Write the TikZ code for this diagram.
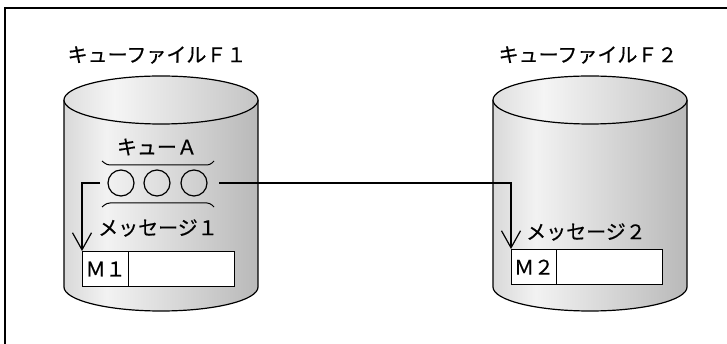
\documentclass[tikz,border=0pt]{standalone}
\usepackage{fontspec}
\setmainfont{Noto Sans CJK JP}[UprightFeatures={FakeBold=0.5}]
\usetikzlibrary{arrows.meta}
\pgfdeclarehorizontalshading{cylbody}{100bp}{color(0bp)=(black!38); color(36bp)=(black!5); color(100bp)=(black!42)}
\pgfdeclarehorizontalshading{cyltop}{100bp}{color(0bp)=(black!30); color(38bp)=(black!4); color(100bp)=(black!36)}
\begin{document}
\begin{tikzpicture}[x=1pt,y=-1pt,
  outline/.style={line width=1.2pt,draw=black},
  lbl/.style={inner sep=0pt,font=\fontsize{20pt}{24pt}\selectfont},
  cell/.style={draw=black,line width=1.2pt,fill=white,inner sep=0pt,anchor=north west},
  dot/.style={circle,draw=black,line width=1.2pt,minimum size=26pt,inner sep=0pt},
  conn/.style={line width=1.2pt,-{Straight Barb[length=17pt,width=19pt,line width=1.2pt]}},
  brk/.style={line width=1pt,rounded corners=3pt}]
\useasboundingbox (0,0) rectangle (727,344);
% frame (only top and left edges visible)
\draw[line width=1.5pt] (5,344) -- (5,8) -- (727,8);
% cylinder 1
\path[shading=cylbody] (64,100) -- (64,287) arc[start angle=180,end angle=0,x radius=97,y radius=24] -- (258,100) -- cycle;
\draw[outline] (64,100) -- (64,287) arc[start angle=180,end angle=0,x radius=97,y radius=24] -- (258,100);
\path[shading=cyltop,outline] (161,100) ellipse[x radius=97,y radius=24];
% cylinder 2
\path[shading=cylbody] (493,100) -- (493,287) arc[start angle=180,end angle=0,x radius=97,y radius=24] -- (687,100) -- cycle;
\draw[outline] (493,100) -- (493,287) arc[start angle=180,end angle=0,x radius=97,y radius=24] -- (687,100);
\path[shading=cyltop,outline] (590,100) ellipse[x radius=97,y radius=24];
% titles
\node[lbl] (t1) at (157,55) {キューファイルＦ１};
\node[lbl] (t2) at (588,55) {キューファイルＦ２};
% queue
\node[lbl] (qa) at (157,147) {キューＡ};
\draw[brk] (102,161) -- (107,165) -- (210,165) -- (214,161);
\draw[brk] (102,207) -- (107,203) -- (210,203) -- (214,207);
\node[dot] (c1) at (121,183) {};
\node[dot] (c2) at (157,183) {};
\node[dot] (c3) at (194,183) {};
\node[lbl] (msg1) at (158,228) {メッセージ１};
% boxes
\node[cell,minimum width=46pt,minimum height=35pt] (m1) at (82,251) {};
\node[cell,minimum width=106pt,minimum height=35pt] (r1) at (128,251) {};
\node[lbl] at (m1.center) {Ｍ１};
\node[cell,minimum width=45pt,minimum height=35pt] (m2) at (511,249) {};
\node[cell,minimum width=106pt,minimum height=35pt] (r2) at (556,249) {};
\node[lbl] at (m2.center) {Ｍ２};
\node[lbl,anchor=west] (msg2) at (526,232) {メッセージ２};
% connectors
\coordinate (s1) at (100,183);
\coordinate (s2) at (219,183);
\draw[conn] (s1) -- (m1.north west |- s1) -- (m1.north west);
\draw[conn] (s2) -- (m2.north west |- s2) -- (m2.north west);
\end{tikzpicture}
\end{document}
